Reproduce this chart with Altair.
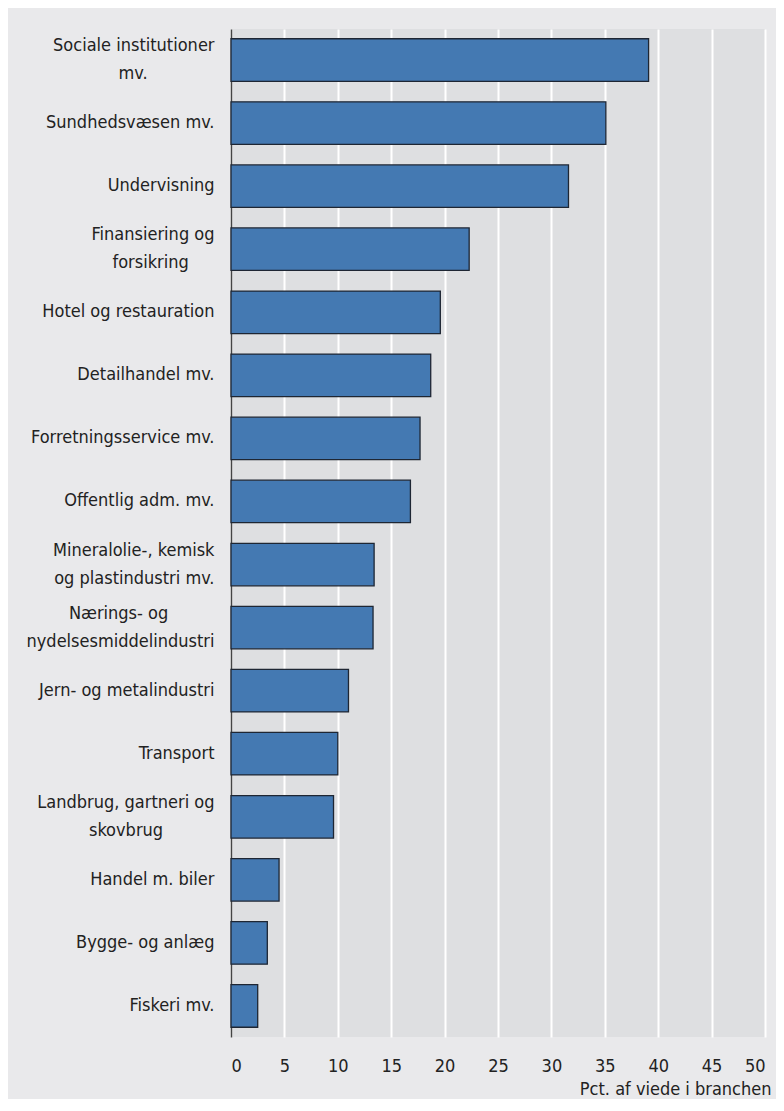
import altair as alt
import pandas as pd

NB = "\u00a0"   # no-break spaces centre the short line of a two-line label
END = "\u200b"  # zero-width end mark so the padding is not trimmed

categories = [
    "Sociale institutioner|mv." + NB * 13 + END,
    "Sundhedsvæsen mv.",
    "Undervisning",
    "Finansiering og|forsikring" + NB * 5 + END,
    "Hotel og restauration",
    "Detailhandel mv.",
    "Forretningsservice mv.",
    "Offentlig adm. mv.",
    "Mineralolie-, kemisk|og plastindustri mv.",
    "Nærings- og" + NB * 9 + END + "|nydelsesmiddelindustri",
    "Jern- og metalindustri",
    "Transport",
    "Landbrug, gartneri og|skovbrug" + NB * 10 + END,
    "Handel m. biler",
    "Bygge- og anlæg",
    "Fiskeri mv.",
]
values = [39.1, 35.1, 31.6, 22.3, 19.6, 18.7, 17.7, 16.8, 13.4, 13.3, 11.0, 10.0, 9.6, 4.5, 3.4, 2.5]
x_ticks = [0, 5, 10, 15, 20, 25, 30, 35, 40, 45, 50]
x_title = "Pct. af viede i branchen"

df = pd.DataFrame({"branche": categories, "pct": values})

FONT = "Liberation Sans Narrow, DejaVu Sans Condensed, Roboto, sans-serif"
TXT = "#222222"

chart = (
    alt.Chart(df)
    .mark_bar(color="#4479b2", stroke="#1e2633", strokeWidth=1.3)
    .encode(
        x=alt.X(
            "pct:Q",
            scale=alt.Scale(domain=[0, 50], nice=False),
            axis=alt.Axis(
                values=x_ticks,
                title=x_title,
                grid=True,
                gridColor="white",
                gridWidth=2,
                domain=False,
                ticks=False,
                tickSize=0,
                labelBaseline="middle",
                labelPadding=29,
                labelFont=FONT,
                labelFontSize=18,
                labelColor=TXT,
                titleFont=FONT,
                titleFontSize=18,
                titleFontWeight="normal",
                titleColor=TXT,
                titleAnchor="end",
                titleAlign="right",
                titleBaseline="alphabetic",
                titleX=540,
                titleY=57,
            ),
        ),
        y=alt.Y(
            "branche:N",
            sort=categories,
            scale=alt.Scale(paddingInner=0.326, paddingOuter=0.155),
            axis=alt.Axis(
                title=None,
                labelExpr="split(datum.label, '|')",
                labelAlign="right",
                labelBaseline="middle",
                labelOffset={
                    "condition": {"test": "indexof(datum.value, '|') >= 0", "value": -14},
                    "value": 0,
                },
                labelPadding=17,
                labelFont=FONT,
                labelFontSize=18,
                labelLineHeight=28,
                labelColor=TXT,
                labelLimit=0,
                ticks=False,
                tickSize=0,
                domain=True,
                domainColor="#444444",
                domainWidth=1.5,
                grid=False,
            ),
        ),
    )
    .properties(
        width=534,
        height=1008,
        background="#e9e9eb",
        padding={"left": 223, "top": 21, "right": 11, "bottom": 62},
        autosize=alt.AutoSizeParams(type="none"),
    )
    .configure_view(fill="#dedfe1", stroke=None)
)

chart.save("out.html", embed_options={"renderer": "svg", "actions": False})
